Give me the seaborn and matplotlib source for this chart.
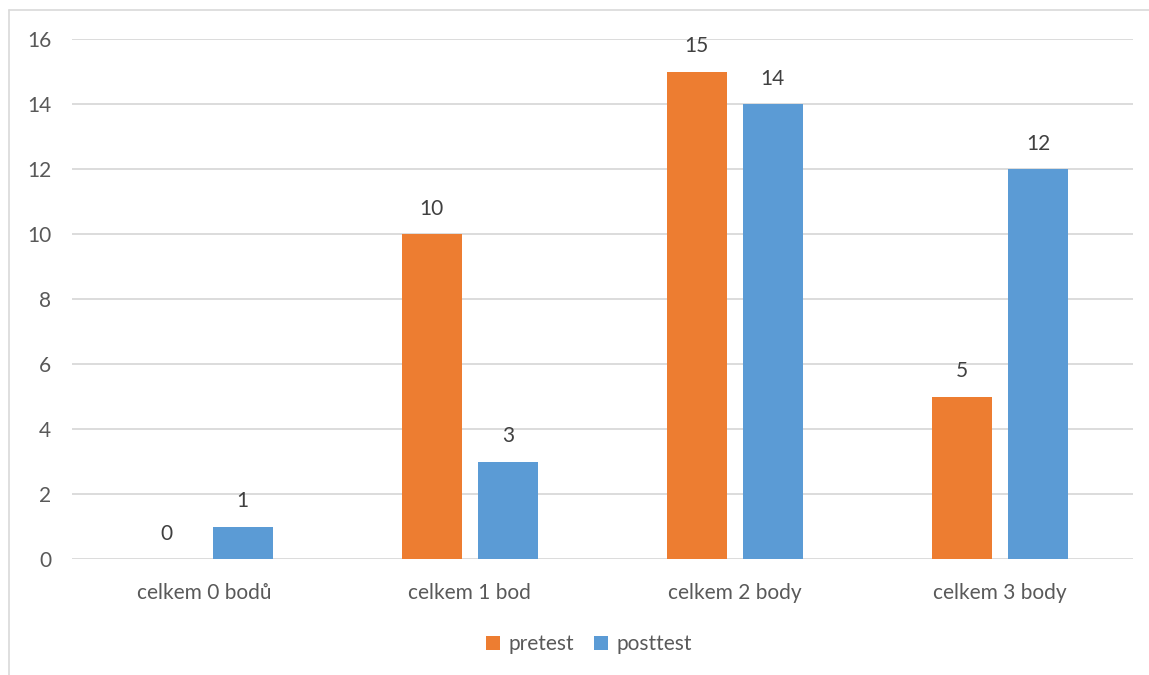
import matplotlib
matplotlib.use("Agg")
import matplotlib.pyplot as plt
from matplotlib.lines import Line2D
import seaborn as sns
import pandas as pd

categories = ["celkem 0 bodů", "celkem 1 bod", "celkem 2 body", "celkem 3 body"]
pretest = [0, 10, 15, 5]
posttest = [1, 3, 14, 12]
series_names = ["pretest", "posttest"]
yticks = [0, 2, 4, 6, 8, 10, 12, 14, 16]

df = pd.DataFrame({
    "kategorie": categories * 2,
    "hodnota": pretest + posttest,
    "test": [series_names[0]] * len(categories) + [series_names[1]] * len(categories),
})

sns.set_theme(style="white")
plt.rcParams["font.family"] = ["Lato", "DejaVu Sans"]

fig = plt.figure(figsize=(11.49, 6.75), dpi=100)
ax = fig.add_axes([72 / 1149, 1 - 559 / 675, (1132.5 - 72) / 1149, (559 - 39) / 675])

sns.barplot(data=df, x="kategorie", y="hodnota", hue="test", order=categories,
            hue_order=series_names, palette=["#ED7D31", "#5B9BD5"], saturation=1,
            width=0.574, gap=0.21, linewidth=0, ax=ax, legend=True)

ax.set_ylim(0, 16)
ax.set_yticks(yticks)
ax.set_xlim(-0.5, len(categories) - 0.5)
ax.set_xlabel("")
ax.set_ylabel("")
for s in ax.spines.values():
    s.set_visible(False)
ax.yaxis.grid(True, color="#D9D9D9", linewidth=1.3)
ax.set_axisbelow(True)
ax.tick_params(axis="y", length=0, pad=15, labelsize=15, labelcolor="#595959")
ax.tick_params(axis="x", length=0, pad=17, labelsize=15, labelcolor="#595959")

for cont in ax.containers:
    ax.bar_label(cont, padding=11, fontsize=15, color="#404040")

handles, labels = ax.get_legend_handles_labels()
ax.get_legend().remove()
fig.legend(handles, labels, loc="center", bbox_to_anchor=(589 / 1149, 1 - 644 / 675),
           ncol=2, frameon=False, fontsize=15, labelcolor="#595959",
           handlelength=0.65, handleheight=0.65, handletextpad=0.4, columnspacing=1.0)

# chart border (left and top)
fig.add_artist(Line2D([8.5 / 1149, 8.5 / 1149], [0, 1 - 9.5 / 675], color="#D9D9D9", lw=1.2,
                      transform=fig.transFigure))
fig.add_artist(Line2D([8.5 / 1149, 1], [1 - 9.5 / 675, 1 - 9.5 / 675], color="#D9D9D9", lw=1.2,
                      transform=fig.transFigure))

fig.savefig("out.png", dpi=100)
